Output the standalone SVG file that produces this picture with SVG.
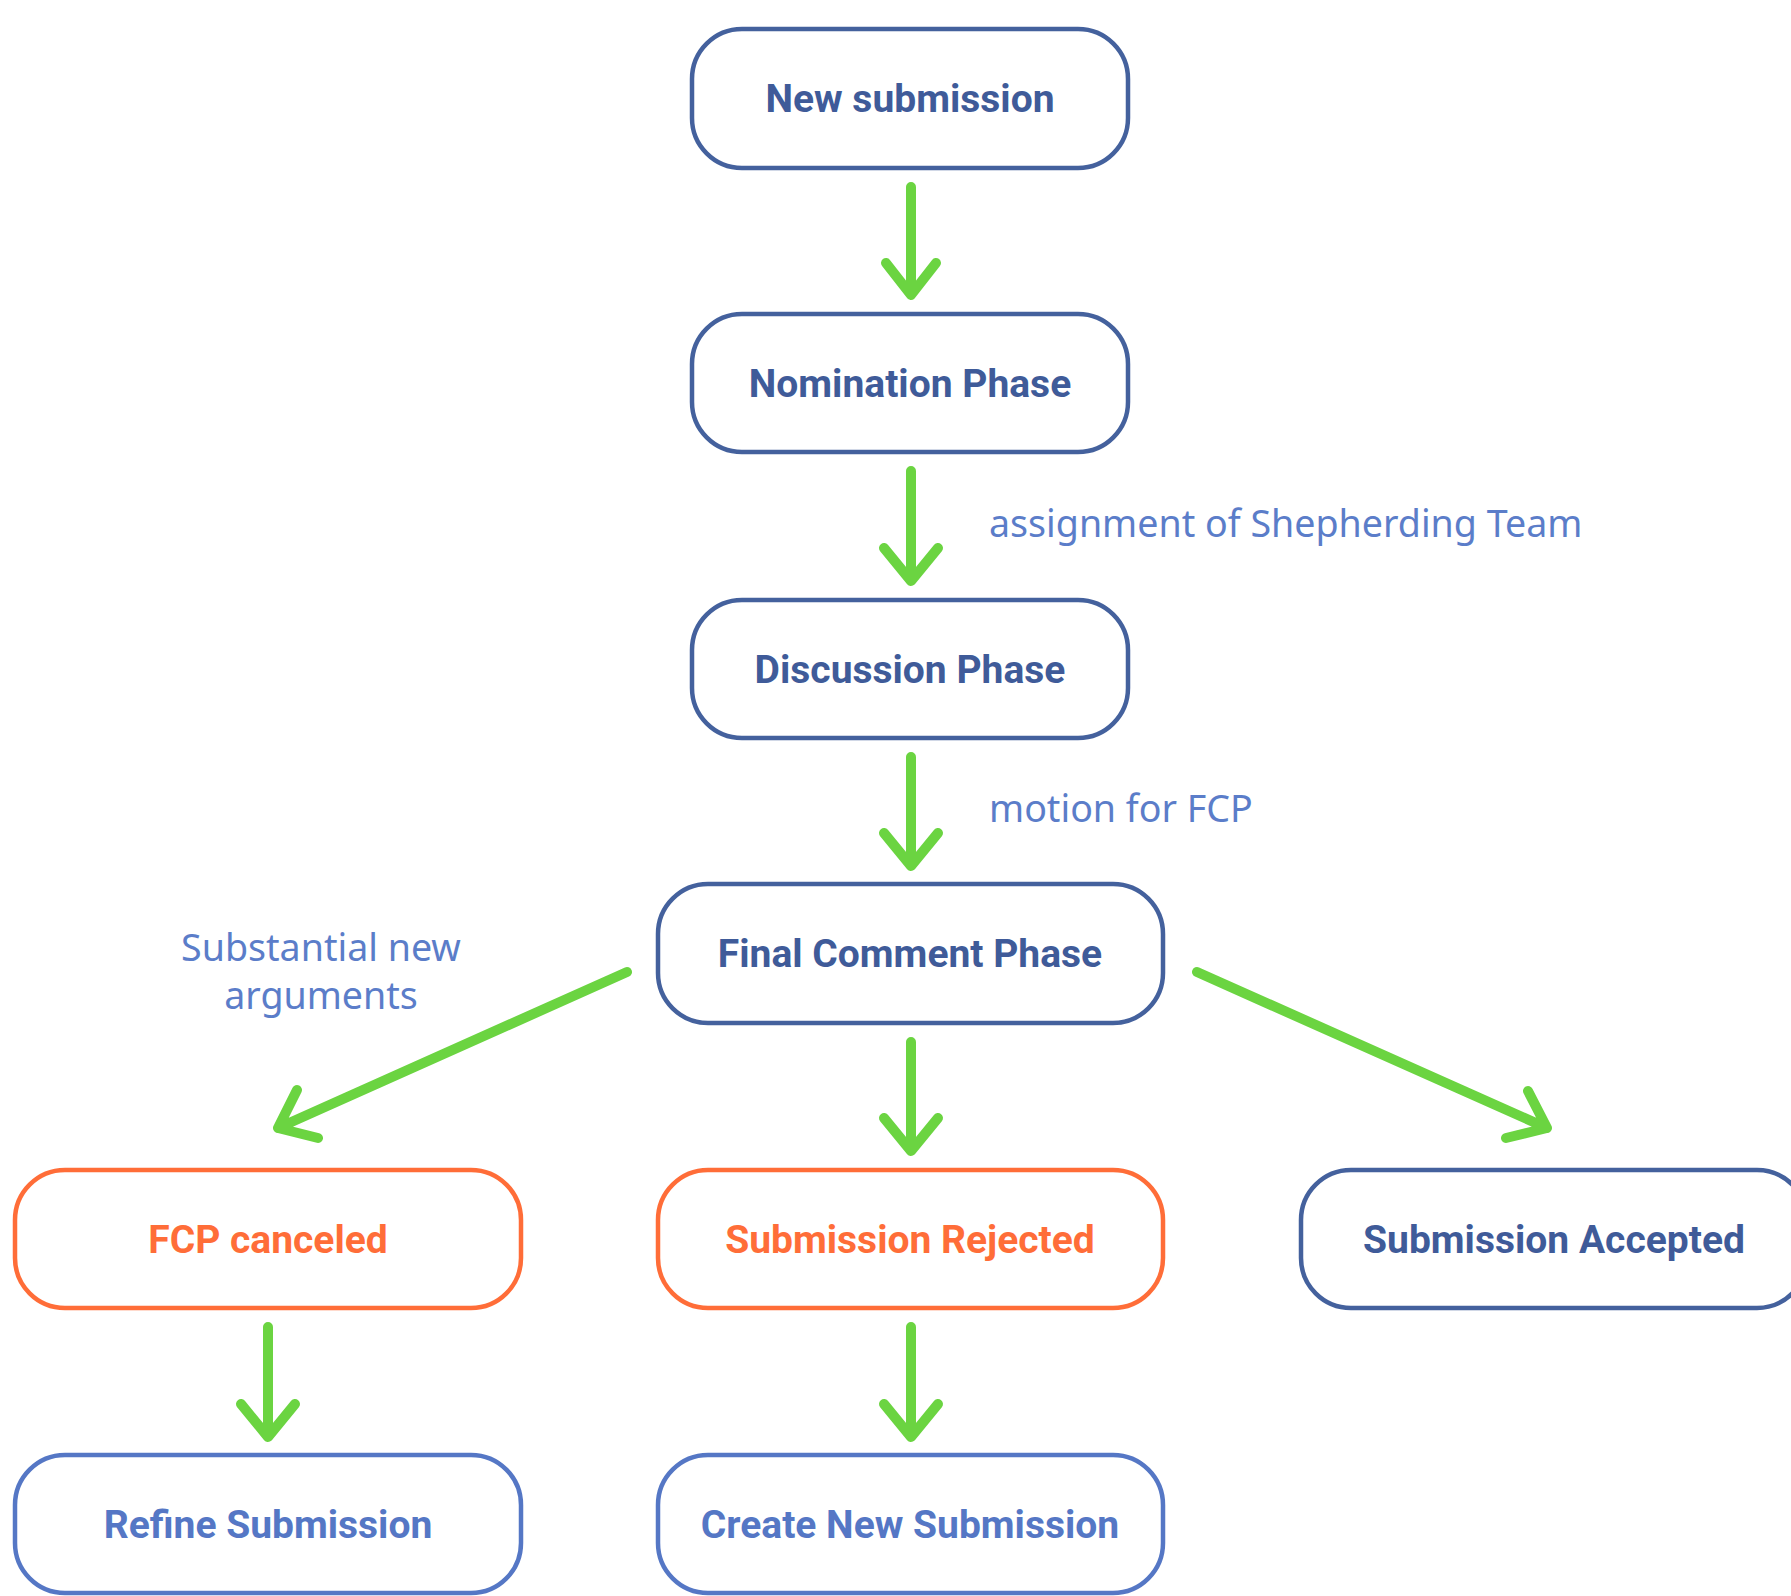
<svg xmlns="http://www.w3.org/2000/svg" width="1791" height="1596" viewBox="0 0 1791 1596">
<style>
.box{fill:#fff;stroke-width:4.5}
.dark{stroke:#44619D}
.orange{stroke:#FF6D38}
.light{stroke:#5577C5}
.t{font-family:Roboto,"Liberation Sans",sans-serif;font-weight:bold;font-size:39px;text-anchor:middle}
.td{fill:#3F5B99}
.to{fill:#FF6D38}
.tl{fill:#5577C5}
.lbl{font-family:"Noto Sans","Open Sans",sans-serif;font-size:37.6px;fill:#5B7DC9}
.arr{fill:none;stroke:#6BD441;stroke-width:10;stroke-linecap:round;stroke-linejoin:round}
</style>
<rect width="1791" height="1596" fill="#fff"/>
<g id="connectors">
<path class="arr" d="M911 187V295M886 263L911 295L936 263"/>
<path class="arr" d="M911 471V581M884 548L911 581L938 548"/>
<path class="arr" d="M911 757V866M884 833L911 866L938 833"/>
<path class="arr" d="M911 1042V1151M884 1118L911 1151L938 1118"/>
<path class="arr" d="M268 1327V1437M241 1404L268 1437L295 1404"/>
<path class="arr" d="M911 1327V1437M884 1404L911 1437L938 1404"/>
<path class="arr" d="M627 972L278 1128M297 1090L278 1128L318 1138"/>
<path class="arr" d="M1197 972L1547 1128M1528 1091L1547 1128L1506 1138"/>
</g>
<g id="labels">
<text class="lbl" x="989" y="537">assignment of Shepherding Team</text>
<text class="lbl" x="989" y="822">motion for FCP</text>
<text class="lbl" x="321" y="961" text-anchor="middle">Substantial new</text>
<text class="lbl" x="321" y="1009" text-anchor="middle">arguments</text>
</g>
<g id="new-submission"><rect class="box dark" x="692" y="29" width="436" height="139" rx="50"/><text class="t td" x="910" y="112">New submission</text></g>
<g id="nomination-phase"><rect class="box dark" x="692" y="314" width="436" height="138" rx="50"/><text class="t td" x="910" y="397">Nomination Phase</text></g>
<g id="discussion-phase"><rect class="box dark" x="692" y="600" width="436" height="138" rx="50"/><text class="t td" x="910" y="683">Discussion Phase</text></g>
<g id="final-comment-phase"><rect class="box dark" x="658" y="884" width="505" height="139" rx="50"/><text class="t td" x="910" y="967">Final Comment Phase</text></g>
<g id="fcp-canceled"><rect class="box orange" x="15" y="1170" width="506" height="138" rx="50"/><text class="t to" x="268" y="1253">FCP canceled</text></g>
<g id="submission-rejected"><rect class="box orange" x="658" y="1170" width="505" height="138" rx="50"/><text class="t to" x="910" y="1253">Submission Rejected</text></g>
<g id="submission-accepted"><rect class="box dark" x="1301" y="1170" width="506" height="138" rx="50"/><text class="t td" x="1554" y="1253">Submission Accepted</text></g>
<g id="refine-submission"><rect class="box light" x="15" y="1455" width="506" height="138" rx="50"/><text class="t tl" x="268" y="1538">Refine Submission</text></g>
<g id="create-new-submission"><rect class="box light" x="658" y="1455" width="505" height="138" rx="50"/><text class="t tl" x="910" y="1538">Create New Submission</text></g>
</svg>
